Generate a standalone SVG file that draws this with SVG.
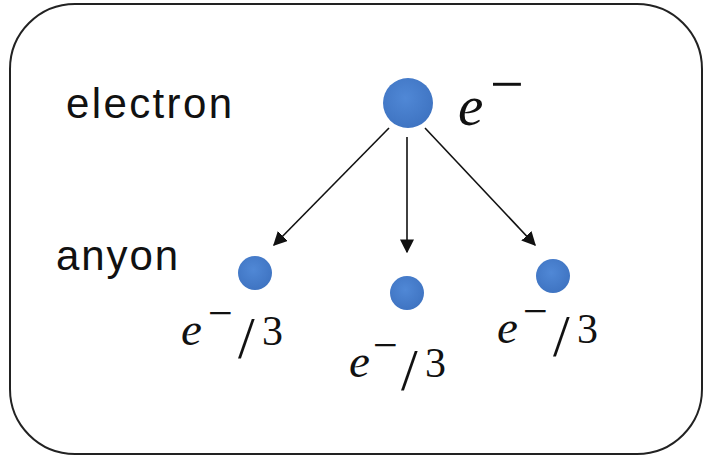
<svg xmlns="http://www.w3.org/2000/svg" width="705" height="456" viewBox="0 0 705 456">
<defs>
<style>
.frame{fill:#fff;stroke:#222;stroke-width:2}
.lbl{font-family:"Liberation Sans",Arial,sans-serif;font-size:42px;fill:#111}
.m{font-family:"Liberation Serif","Times New Roman",serif;fill:#111;font-size:44px}
.i{font-style:italic;font-size:47px}
.sl{font-size:60px}
.d{font-size:42px}
.big{font-size:57px}
.bm{font-size:60px}
.conn line{stroke:#111;stroke-width:1.6}
</style>
<marker id="ah" viewBox="0 0 10 10" refX="9" refY="5" markerWidth="14" markerHeight="14" markerUnits="userSpaceOnUse" orient="auto"><path d="M0,0L10,5L0,10z" fill="#111"/></marker>
<radialGradient id="g" cx="0.45" cy="0.4" r="0.6"><stop offset="0" stop-color="#5088d6"/><stop offset="1" stop-color="#3f74c2"/></radialGradient>
</defs>
<rect class="frame" x="10" y="4" width="692" height="450" rx="65" ry="65"/>
<text class="lbl" x="66" y="118" textLength="166" lengthAdjust="spacing">electron</text>
<text class="lbl" x="56" y="270" textLength="122" lengthAdjust="spacing">anyon</text>
<g id="electron"><circle cx="408" cy="103" r="25" fill="url(#g)"/><text class="m"><tspan class="i big" x="458" y="125">e</tspan><tspan class="bm" x="490" y="104">−</tspan></text></g>
<g id="anyon1"><circle cx="255" cy="273" r="17" fill="url(#g)"/><text class="m"><tspan class="i" x="181" y="345">e</tspan><tspan x="208" y="328">−</tspan><tspan class="sl" x="238" y="358">/</tspan><tspan class="d" x="262" y="345">3</tspan></text></g>
<g id="anyon2"><circle cx="407" cy="293" r="17" fill="url(#g)"/><text class="m"><tspan class="i" x="349" y="377">e</tspan><tspan x="373" y="360">−</tspan><tspan class="sl" x="401" y="390">/</tspan><tspan class="d" x="425" y="377">3</tspan></text></g>
<g id="anyon3"><circle cx="553" cy="276" r="17" fill="url(#g)"/><text class="m"><tspan class="i" x="497" y="343">e</tspan><tspan x="523" y="326">−</tspan><tspan class="sl" x="553" y="356">/</tspan><tspan class="d" x="577" y="343">3</tspan></text></g>
<g class="conn" id="connectors">
<line x1="389" y1="128" x2="274" y2="245" marker-end="url(#ah)"/>
<line x1="407" y1="137" x2="407" y2="252" marker-end="url(#ah)"/>
<line x1="425" y1="128" x2="535" y2="245" marker-end="url(#ah)"/>
</g>
</svg>
